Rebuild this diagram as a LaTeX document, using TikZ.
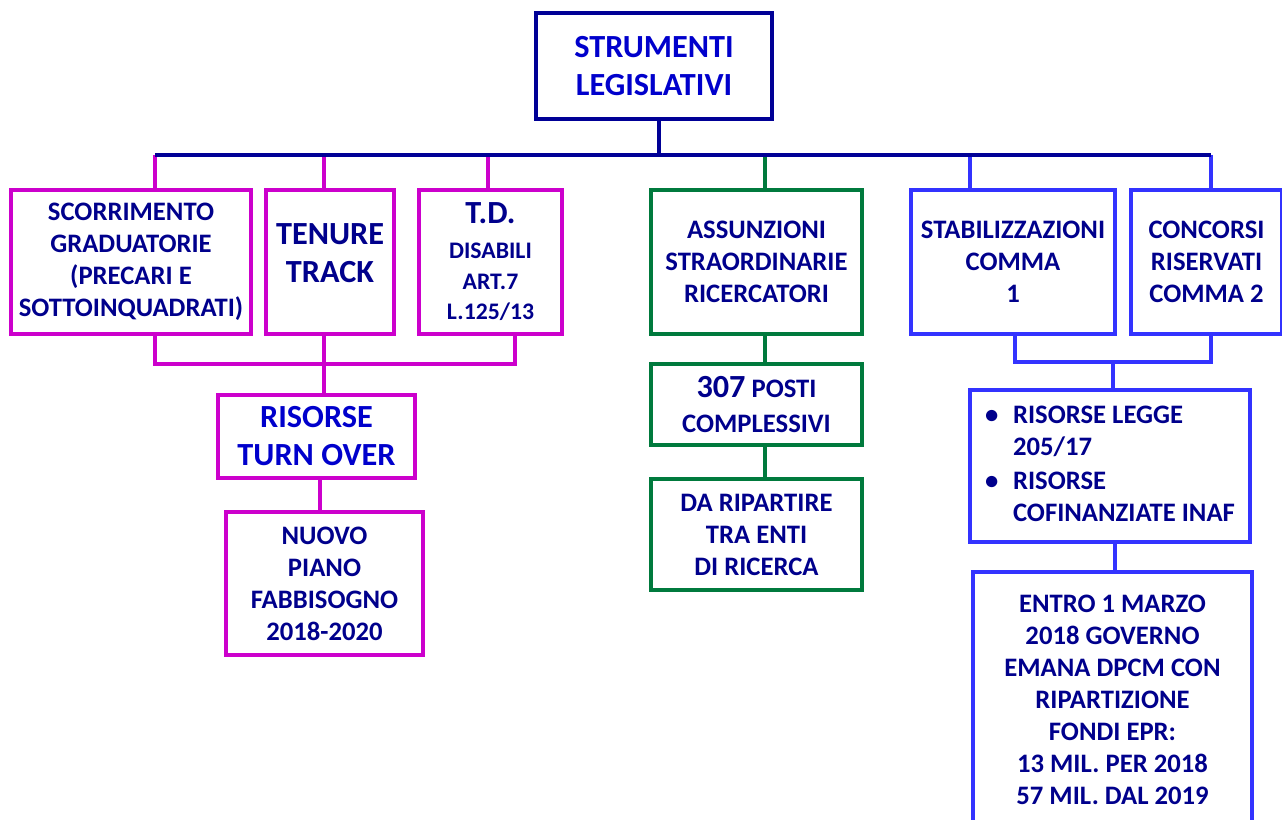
\documentclass[tikz,border=0pt]{standalone}
\usepackage{fontspec}
\setmainfont{Carlito}
\definecolor{navy}{RGB}{0,0,150}
\definecolor{txt}{RGB}{0,0,140}
\definecolor{brt}{RGB}{0,0,204}
\definecolor{mag}{RGB}{204,0,204}
\definecolor{grn}{RGB}{0,122,61}
\definecolor{blu}{RGB}{51,51,255}
\tikzset{
  box/.style={draw, line width=3pt, anchor=north west, inner sep=0pt, align=center,
    text=txt, font=\fontsize{20}{24}\selectfont\bfseries},
  bigtxt/.style={font=\fontsize{24.2}{28.5}\selectfont\bfseries},
  wh/.style 2 args={minimum width=#1*0.75pt, minimum height=#2*0.75pt},
  link/.style={line width=3pt},
}
\begin{document}
\begin{tikzpicture}[x=0.75pt,y=-0.75pt]
\clip (0,0) rectangle (1282,820);
\fill[white] (0,0) rectangle (1282,820);

% top
\node[box, draw=navy, bigtxt, text=brt, wh={236}{106}] (top) at (534,11) {STRUMENTI\\LEGISLATIVI};

% magenta branch
\node[box, draw=mag, wh={240}{144}] (b1) at (9,188) {SCORRIMENTO\\GRADUATORIE\\(PRECARI E\\SOTTOINQUADRATI)};
\node[box, draw=mag, bigtxt, wh={128}{144}, text depth=14pt] (b2) at (264,188) {TENURE\\TRACK};
\node[box, draw=mag, font=\fontsize{17.8}{23}\selectfont\bfseries, wh={143}{144}] (b3) at (417,188)
  {{\fontsize{24.2}{28.5}\selectfont T.D.}\\[3pt]DISABILI\\ART.7\\L.125/13};
\node[box, draw=mag, bigtxt, text=brt, wh={197}{83}] (rto) at (216,393) {RISORSE\\TURN OVER};
\node[box, draw=mag, wh={197}{143}] (np) at (224,510) {NUOVO\\PIANO\\FABBISOGNO\\2018-2020};

% green branch
\node[box, draw=grn, wh={211}{144}] (as) at (649,188) {ASSUNZIONI\\STRAORDINARIE\\RICERCATORI};
\node[box, draw=grn, wh={211}{81}] (p3) at (649,362) {{\fontsize{24.2}{28.5}\selectfont 307} POSTI\\[2pt]COMPLESSIVI};
\node[box, draw=grn, wh={211}{111}] (dr) at (649,477) {DA RIPARTIRE\\TRA ENTI\\DI RICERCA};

% blue branch
\node[box, draw=blu, wh={204}{144}] (st) at (909,188) {STABILIZZAZIONI\\COMMA\\1};
\node[box, draw=blu, wh={151}{144}] (cr) at (1129,188) {CONCORSI\\RISERVATI\\COMMA 2};
\node[box, draw=blu, wh={280}{152}] (rl) at (968,388)
  {\begin{tabular}{@{}l@{\hspace{11pt}}l@{}}\textbullet & RISORSE LEGGE\\ & 205/17\\[2pt]
   \textbullet & RISORSE\\ & COFINANZIATE INAF\end{tabular}};
\node[box, draw=blu, wh={279}{255}] (en) at (971,570)
  {ENTRO 1 MARZO\\2018 GOVERNO\\EMANA DPCM CON\\RIPARTIZIONE\\FONDI EPR:\\13 MIL. PER 2018\\57 MIL. DAL 2019};

% connector coordinates
\coordinate (bl) at (155,155);
\coordinate (br) at (1211,155);
\coordinate (bs) at (659,155);
\coordinate (d2) at (324,155);
\coordinate (d3) at (488,155);
\coordinate (dg) at (765,155);
\coordinate (db) at (970,155);
\coordinate (k1) at (155,364);
\coordinate (k2) at (324,364);
\coordinate (k3) at (515,364);
\coordinate (k4) at (320,476);
\coordinate (s1) at (1015,362);
\coordinate (s2) at (1211,362);
\coordinate (s3) at (1113,362);
\coordinate (s4) at (1115,540);

% drops from bar
\draw[link,mag] (bl) -- (bl |- b1.north);
\draw[link,mag] (d2) -- (d2 |- b2.north);
\draw[link,mag] (d3) -- (d3 |- b3.north);
\draw[link,grn] (dg) -- (dg |- as.north);
\draw[link,blu] (db) -- (db |- st.north);
\draw[link,blu] (br) -- (br |- cr.north);
% bar and stem
\draw[link,navy] (bs |- top.south) -- (bs);
\draw[link,navy] (bl) -- (br);

% magenta lower links
\draw[link,mag] (k1 |- b1.south) -- (k1) -- (k3) -- (k3 |- b3.south);
\draw[link,mag] (k2 |- b2.south) -- (k2 |- rto.north);
\draw[link,mag] (k4 |- rto.south) -- (k4 |- np.north);

% green lower links
\draw[link,grn] (dg |- as.south) -- (dg |- p3.north);
\draw[link,grn] (dg |- p3.south) -- (dg |- dr.north);

% blue lower links
\draw[link,blu] (s1 |- st.south) -- (s1) -- (s2) -- (s2 |- cr.south);
\draw[link,blu] (s3) -- (s3 |- rl.north);
\draw[link,blu] (s4 |- rl.south) -- (s4 |- en.north);
\end{tikzpicture}
\end{document}
